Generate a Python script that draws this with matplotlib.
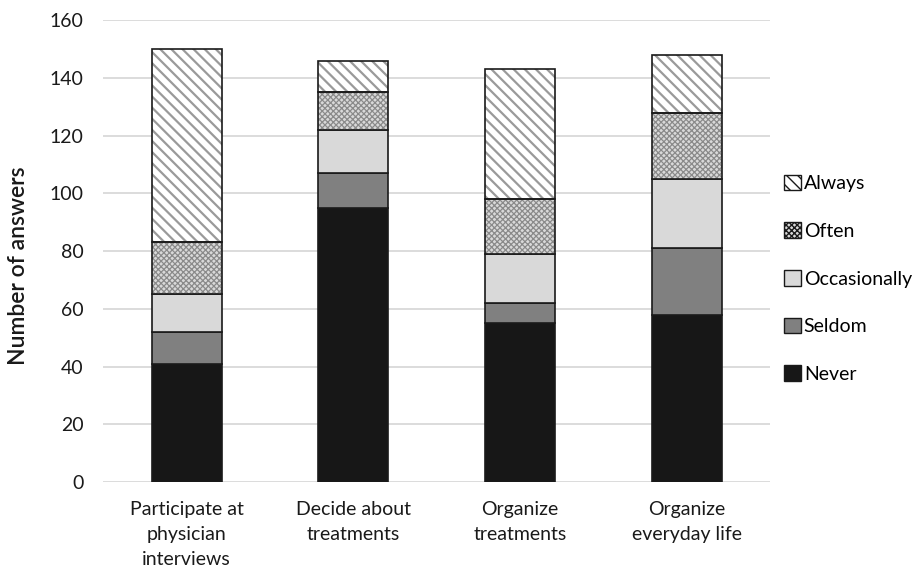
import matplotlib.pyplot as plt
import numpy as np

plt.rcParams['font.family'] = ['Lato', 'DejaVu Sans']

categories = ['Participate at\nphysician\ninterviews', 'Decide about\ntreatments',
              'Organize\ntreatments', 'Organize\neveryday life']
levels = ['Never', 'Seldom', 'Occasionally', 'Often', 'Always']
never = [41, 95, 55, 58]
seldom = [11, 12, 7, 23]
occasionally = [13, 15, 17, 24]
often = [18, 13, 19, 23]
always = [67, 11, 45, 20]

series = [never, seldom, occasionally, often, always]
faces = ['#171717', '#808080', '#d9d9d9', '#d9d9d9', 'white']
hatches = [None, None, None, 'xxxxxx', '\\\\\\']
hatch_cols = [None, None, None, '#8a8a8a', '#9a9a9a']
hatch_lws = [1, 1, 1, 0.9, 1.6]

fig = plt.figure(figsize=(9.22, 5.78), dpi=100)
ax = fig.add_axes([0.112, 0.166, 0.723, 0.799])

x = np.arange(len(categories))
width = 0.42
bottom = np.zeros(len(categories))
handles = []
for vals, label, fc, h, hc, hlw in zip(series, levels, faces, hatches, hatch_cols, hatch_lws):
    vals = np.array(vals)
    if h:
        with plt.rc_context({'hatch.linewidth': hlw}):
            ax.bar(x, vals, width, bottom=bottom, color=fc, hatch=h, edgecolor=hc,
                   linewidth=0, zorder=3)
        ax.bar(x, vals, width, bottom=bottom, fill=False, edgecolor='#1a1a1a',
               linewidth=1.2, zorder=4)
    else:
        ax.bar(x, vals, width, bottom=bottom, color=fc, edgecolor='#1a1a1a',
               linewidth=1.2, zorder=3)
    with plt.rc_context({'hatch.linewidth': 0.8}):
        handles.append(plt.Rectangle((0, 0), 1, 1, facecolor=fc, hatch=h,
                                     edgecolor='#1a1a1a', linewidth=1, label=label))
    bottom += vals

ax.set_xlim(-0.5, 3.5)
ax.set_ylim(0, 160)
ax.set_yticks(np.arange(0, 161, 20))
ax.set_xticks(x)
ax.set_xticklabels(categories, fontsize=14, linespacing=1.55)
ax.tick_params(axis='both', length=0, labelsize=14, colors='#1a1a1a')
ax.tick_params(axis='x', pad=14)
ax.tick_params(axis='y', pad=14)
ax.grid(axis='y', color='#d9d9d9', linewidth=1.3, zorder=0)
for s in ax.spines.values():
    s.set_visible(False)
ax.set_ylabel('Number of answers', fontsize=16.5, fontweight='semibold',
              color='#1a1a1a', labelpad=10)
ax.yaxis.set_label_coords(-0.112, 0.469)

leg = ax.legend(handles=handles[::-1], loc='center left', bbox_to_anchor=(1.01, 0.44),
                frameon=False, fontsize=14, handlelength=0.85, handleheight=0.85,
                handletextpad=0.15, labelspacing=1.55, borderaxespad=0)

fig.savefig('out.png', dpi=100)
